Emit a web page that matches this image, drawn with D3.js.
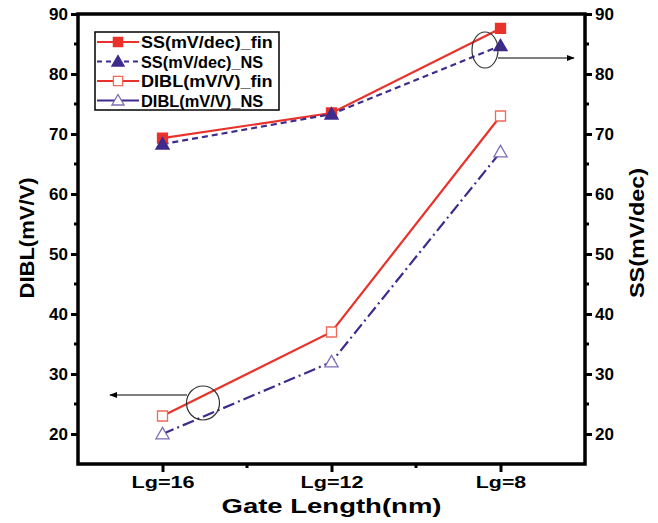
<!DOCTYPE html>
<html>
<head>
<meta charset="utf-8">
<script src="https://cdn.jsdelivr.net/npm/d3@7"></script>
<style>
  body { margin: 0; background: #fff; }
  text { font-family: Arial, "Liberation Sans", sans-serif; font-weight: bold; }
</style>
</head>
<body>
<div id="chart"></div>
<script>
// categories and series values
const categories = ['Lg=16', 'Lg=12', 'Lg=8'];
const ssFin = [69.3, 73.5, 87.6];
const ssNS = [68.3, 73.3, 84.7];
const diblFin = [23, 37, 73];
const diblNS = [20, 32, 67];
const yTicks = [20, 30, 40, 50, 60, 70, 80, 90];

const W = 658, H = 523;
const red = '#e8322b', purple = '#3e2b8c';

const svg = d3.select('#chart').append('svg')
    .attr('width', W).attr('height', H);

const x = d3.scaleLinear().domain([-0.5, 2.5]).range([78, 585]);
const y = d3.scaleLinear().domain([15, 90]).range([464, 14]);

// frame
svg.append('rect').attr('x', x(-0.5)).attr('y', y(90))
    .attr('width', x(2.5) - x(-0.5)).attr('height', y(15) - y(90))
    .attr('fill', 'none').attr('stroke', '#000').attr('stroke-width', 3.5);

const leftAx = svg.append('g').attr('transform', `translate(${x(-0.5)},0)`)
    .call(d3.axisLeft(y).tickValues(yTicks).tickSize(7).tickPadding(3));
const rightAx = svg.append('g').attr('transform', `translate(${x(2.5)},0)`)
    .call(d3.axisRight(y).tickValues(yTicks).tickSize(7).tickPadding(3));
const botAx = svg.append('g').attr('transform', `translate(0,${y(15)})`)
    .call(d3.axisBottom(x).tickValues([0, 1, 2]).tickFormat(i => categories[i]).tickSize(8).tickPadding(5));

[leftAx, rightAx, botAx].forEach(g => {
    g.select('.domain').remove();
    g.selectAll('line').attr('stroke', '#000').attr('stroke-width', 3);
    g.selectAll('text').attr('fill', '#000').style('font-size', '17px').style('font-weight', 'bold');
});
// the bottom labels in the figure are wide (stretched)
botAx.selectAll('text').style('font-size', '16px')
    .attr('textLength', d => categories[d].length * 12.6)
    .attr('lengthAdjust', 'spacingAndGlyphs');

// minor ticks
const minor = svg.append('g').attr('stroke', '#000').attr('stroke-width', 3);
[25, 35, 45, 55, 65, 75, 85].forEach(v => {
    minor.append('line').attr('x1', x(-0.5)).attr('x2', x(-0.5) - 4).attr('y1', y(v)).attr('y2', y(v));
    minor.append('line').attr('x1', x(2.5)).attr('x2', x(2.5) + 4).attr('y1', y(v)).attr('y2', y(v));
});
[0.5, 1.5].forEach(v => {
    minor.append('line').attr('x1', x(v)).attr('x2', x(v)).attr('y1', y(15)).attr('y2', y(15) + 4);
});

// axis titles
svg.append('text').attr('transform', `translate(34,238) rotate(-90)`)
    .attr('text-anchor', 'middle').style('font-size', '20px')
    .attr('textLength', 121).attr('lengthAdjust', 'spacingAndGlyphs').text('DIBL(mV/V)');
svg.append('text').attr('transform', `translate(644,233) rotate(-90)`)
    .attr('text-anchor', 'middle').style('font-size', '20px')
    .attr('textLength', 130).attr('lengthAdjust', 'spacingAndGlyphs').text('SS(mV/dec)');
svg.append('text').attr('x', x(1)).attr('y', 513)
    .attr('text-anchor', 'middle').style('font-size', '21px')
    .attr('textLength', 220).attr('lengthAdjust', 'spacingAndGlyphs').text('Gate Length(nm)');

const series = [
    { name: 'SS(mV/dec)_fin', data: ssFin, color: red, dash: null, marker: 'square', filled: true },
    { name: 'SS(mV/dec)_NS', data: ssNS, color: purple, dash: '6,4', marker: 'triangle', filled: true },
    { name: 'DIBL(mV/V)_fin', data: diblFin, color: red, dash: null, marker: 'square', filled: false },
    { name: 'DIBL(mV/V)_NS', data: diblNS, color: purple, dash: '12,4,2,4', marker: 'triangle', filled: false }
];

const line = d3.line().x((d, i) => x(i)).y(d => y(d));

function drawMarker(g, s, cx, cy, k) {
    const sym = s.marker === 'square' ? d3.symbolSquare : d3.symbolTriangle;
    const size = (s.marker === 'square' ? 100 : 75) * (k || 1);
    g.append('path')
        .attr('d', d3.symbol().type(sym).size(size)())
        .attr('transform', `translate(${cx},${cy + (s.marker === 'triangle' ? 1 : 0)})`)
        .attr('fill', s.filled ? s.color : '#fff')
        .attr('stroke', s.filled ? s.color : (s.marker === 'triangle' ? '#7d6db5' : '#f06a5a'))
        .attr('stroke-width', 1.3);
}

series.forEach(s => {
    svg.append('path').datum(s.data)
        .attr('d', line)
        .attr('fill', 'none')
        .attr('stroke', s.color)
        .attr('stroke-width', 2.2)
        .attr('stroke-dasharray', s.dash);
});
series.forEach(s => {
    const g = svg.append('g');
    s.data.forEach((v, i) => drawMarker(g, s, x(i), y(v)));
});

// legend
const lg = svg.append('g');
lg.append('rect').attr('x', 95).attr('y', 32).attr('width', 184).attr('height', 78)
    .attr('fill', '#fff').attr('stroke', '#000').attr('stroke-width', 1.5);
series.forEach((s, i) => {
    const yy = 42 + i * 19.5;
    lg.append('line').attr('x1', 97).attr('x2', 139).attr('y1', yy).attr('y2', yy)
        .attr('stroke', s.color).attr('stroke-width', 2)
        .attr('stroke-dasharray', i === 1 ? '5,4' : null);
    drawMarker(lg, s, 118, yy, 0.85);
    lg.append('text').attr('x', 141).attr('y', yy + 6).style('font-size', '16.5px')
        .attr('textLength', s.name.length * 9.4).attr('lengthAdjust', 'spacingAndGlyphs')
        .text(s.name);
});

// annotations: ellipses with arrows
svg.append('defs').append('marker').attr('id', 'arr')
    .attr('viewBox', '0 0 10 10').attr('refX', 9).attr('refY', 5)
    .attr('markerWidth', 9).attr('markerHeight', 6).attr('orient', 'auto')
    .append('path').attr('d', 'M0,1 L10,5 L0,9 Z').attr('fill', '#000');

svg.append('ellipse').attr('cx', 485).attr('cy', 50).attr('rx', 13).attr('ry', 18)
    .attr('fill', 'none').attr('stroke', '#333').attr('stroke-width', 1.2);
svg.append('line').attr('x1', 498).attr('y1', 58).attr('x2', 574).attr('y2', 58)
    .attr('stroke', '#555').attr('stroke-width', 1.3).attr('marker-end', 'url(#arr)');

svg.append('ellipse').attr('cx', 203).attr('cy', 403).attr('rx', 16.5).attr('ry', 17)
    .attr('fill', 'none').attr('stroke', '#333').attr('stroke-width', 1.2);
svg.append('line').attr('x1', 187).attr('y1', 395).attr('x2', 110).attr('y2', 395)
    .attr('stroke', '#555').attr('stroke-width', 1.3).attr('marker-end', 'url(#arr)');
</script>
</body>
</html>
